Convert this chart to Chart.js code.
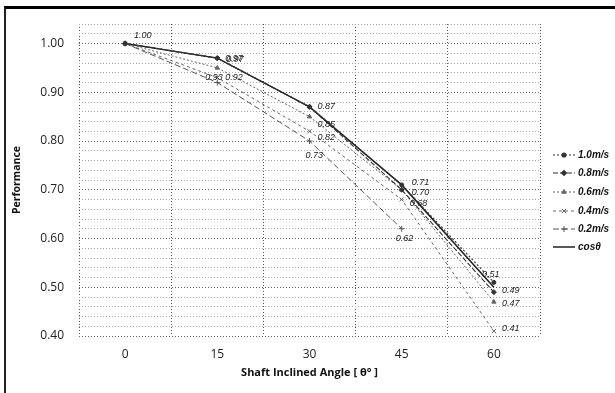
<!DOCTYPE html>
<html>
<head>
<meta charset="utf-8">
<script src="https://cdn.jsdelivr.net/npm/chart.js@4.4.0/dist/chart.umd.min.js"></script>
<style>
html,body{margin:0;padding:0;background:#fff;}
#wrap{position:relative;width:615px;height:393px;}
#frame{position:absolute;left:4px;top:6px;width:611px;height:387px;border-top:3px solid #000;border-left:2px solid #222;box-sizing:border-box;pointer-events:none;}
canvas{position:absolute;left:0;top:0;}
</style>
</head>
<body>
<div id="wrap"><canvas id="c" width="615" height="393"></canvas><div id="frame"></div></div>
<script>
const categories = ['0', '15', '30', '45', '60'];
const seriesNames = ['1.0m/s', '0.8m/s', '0.6m/s', '0.4m/s', '0.2m/s', 'cosθ'];
const v10 = [1.00, 0.97, 0.87, 0.71, 0.51];
const v08 = [1.00, 0.97, 0.87, 0.70, 0.49];
const v06 = [1.00, 0.95, 0.85, 0.70, 0.47];
const v04 = [1.00, 0.93, 0.82, 0.68, 0.41];
const v02 = [1.00, 0.92, 0.80, 0.62, null];
const vcos = [1.00, 0.97, 0.87, 0.71, 0.50];
const yTicks = ['0.40', '0.50', '0.60', '0.70', '0.80', '0.90', '1.00'];
// label texts shown next to points (null = no label)
const lab10 = ['1.00', '0.97', '0.87', '0.71', '0.51'];
const lab08 = [null, '0.97', null, '0.70', '0.49'];
const lab06 = [null, '0.93', '0.85', null, '0.47'];
const lab04 = [null, '0.92', '0.82', '0.68', '0.41'];
const lab02 = [null, null, '0.73', '0.62', null];
const labCos = [null, null, null, null, null];

// label offsets (style/position only)
const labelOffsets = [
  [[9,-8],[8,0],[8,0],[10,-2],[-12,-8]],
  [null,[9,1],null,[10,3],[8,-2]],
  [null,[-12,10],[8,8],null,[8,2]],
  [null,[8,0],[8,6],[8,4],[8,-3]],
  [null,null,[-4,14],[-6,10],null],
  [null,null,null,null,null]
];

const valueSets = [v10, v08, v06, v04, v02, vcos];
const labelSets = [lab10, lab08, lab06, lab04, lab02, labCos];
const styles = [
  {c:'#333', dash:[2,2], w:1.1, ps:'circle', r:2},
  {c:'#333', dash:[5,2], w:1.1, ps:'rectRot', r:2.5},
  {c:'#666', dash:[2,2], w:1, ps:'triangle', r:2.5},
  {c:'#666', dash:[3,3], w:1, ps:'crossRot', r:3},
  {c:'#555', dash:[6,3], w:1, ps:'cross', r:3},
  {c:'#222', dash:[], w:1.5, ps:'line', r:0}
];

const datasets = seriesNames.map((n, i) => ({
  label: n,
  data: valueSets[i],
  borderColor: styles[i].c,
  backgroundColor: styles[i].c,
  borderWidth: styles[i].w,
  borderDash: styles[i].dash,
  pointStyle: styles[i].ps,
  pointRadius: styles[i].r,
  pointBorderWidth: 1,
  fill: false,
  tension: 0,
  spanGaps: false
}));

const labelPlugin = {
  id: 'pointLabels',
  afterDatasetsDraw(chart) {
    const ctx = chart.ctx;
    ctx.save();
    ctx.font = 'italic 9px "Liberation Sans", Arial, sans-serif';
    ctx.fillStyle = '#222';
    ctx.textBaseline = 'middle';
    ctx.textAlign = 'left';
    chart.data.datasets.forEach((ds, i) => {
      const meta = chart.getDatasetMeta(i);
      meta.data.forEach((pt, j) => {
        const t = labelSets[i][j];
        const off = labelOffsets[i][j];
        if (!t || !off || ds.data[j] == null) return;
        ctx.fillText(t, pt.x + off[0], pt.y + off[1]);
      });
    });
    ctx.restore();
  }
};

const legendPlugin = {
  id: 'sideLegend',
  afterDraw(chart) {
    const ctx = chart.ctx;
    ctx.save();
    const x0 = 553, x1 = 575, tx = 578;
    const ys = [155, 173, 192, 211, 229, 247];
    ctx.font = 'italic bold 10px "Liberation Sans", Arial, sans-serif';
    ctx.textBaseline = 'middle';
    seriesNames.forEach((n, i) => {
      const s = styles[i];
      const y = ys[i];
      ctx.strokeStyle = s.c;
      ctx.lineWidth = s.w;
      ctx.setLineDash(s.dash);
      ctx.beginPath(); ctx.moveTo(x0, y); ctx.lineTo(x1, y); ctx.stroke();
      ctx.setLineDash([]);
      if (s.ps !== 'line') {
        ctx.fillStyle = s.c;
        Chart.helpers.drawPoint(ctx, {pointStyle: s.ps, radius: s.r, borderWidth: 1}, (x0 + x1) / 2, y);
      }
      ctx.fillStyle = '#111';
      ctx.fillText(n, tx, y);
    });
    ctx.restore();
  }
};

new Chart(document.getElementById('c'), {
  type: 'line',
  data: { labels: categories, datasets },
  options: {
    responsive: false,
    animation: false,
    devicePixelRatio: 1,
    layout: { padding: { left: 0, top: 24, right: 75, bottom: 0 } },
    plugins: { legend: { display: false }, tooltip: { enabled: false } },
    scales: {
      x: {
        type: 'category',
        offset: true,
        grid: { offset: true, color: '#555', lineWidth: 1, drawTicks: false },
        border: { display: false, dash: [1, 2] },
        ticks: { color: '#222', font: { family: '"Open Sans", sans-serif', size: 12 }, padding: 11 },
        title: { display: true, text: 'Shaft Inclined Angle [ θ° ]', color: '#111', font: { family: '"Open Sans", sans-serif', size: 11, weight: 'bold' }, padding: { top: 4, bottom: 14 } },
        afterFit(s) { s.height = 57; }
      },
      y: {
        min: 0.40, max: 1.04,
        ticks: {
          stepSize: 0.02,
          color: '#222',
          font: { family: '"Open Sans", sans-serif', size: 12 },
          padding: 15,
          autoSkip: false,
          callback(v) {
            const k = Math.round(v * 10);
            if (Math.abs(v * 10 - k) < 1e-6) { const s = (k / 10).toFixed(2); return yTicks.includes(s) ? s : ''; }
            return '';
          }
        },
        grid: {
          drawTicks: false,
          color(ctx) { const v = ctx.tick.value; return Math.abs(v * 10 - Math.round(v * 10)) < 1e-6 ? '#666' : '#aaa'; }
        },
        border: { display: false, dash: [1, 2] },
        title: { display: true, text: 'Performance', color: '#111', font: { family: '"Open Sans", sans-serif', size: 10.5, weight: 'bold' }, padding: { top: 11, bottom: 0 } },
        afterFit(s) { s.width = 79; }
      }
    }
  },
  plugins: [labelPlugin, legendPlugin]
});
</script>
</body>
</html>
